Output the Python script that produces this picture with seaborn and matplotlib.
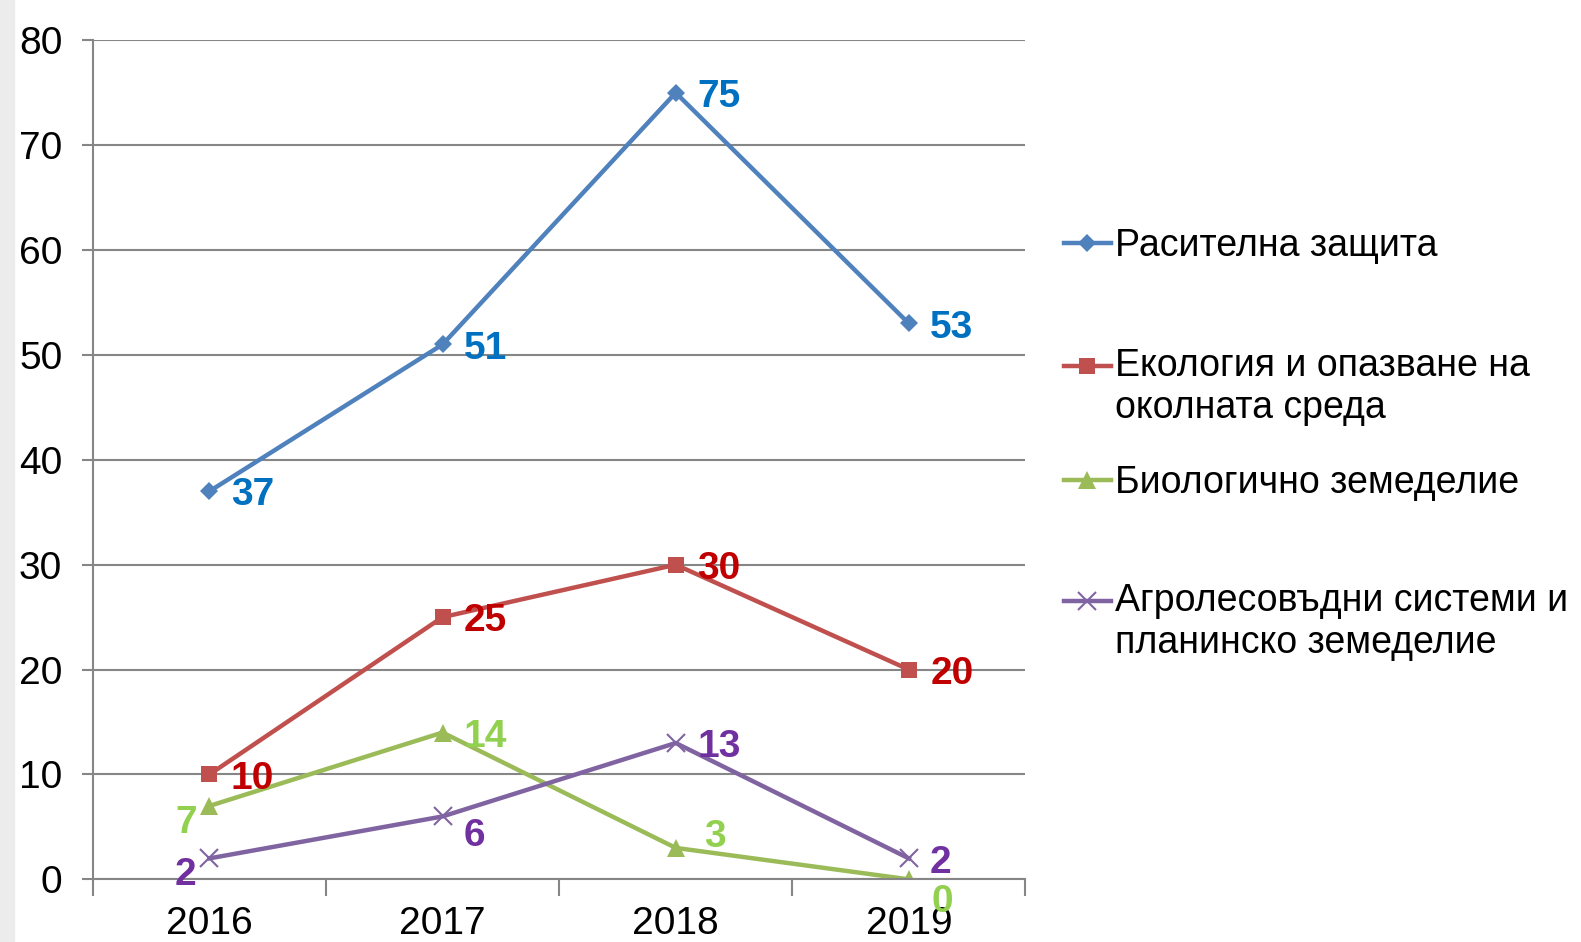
import pandas as pd
import matplotlib.pyplot as plt
import seaborn as sns
from matplotlib.patches import Rectangle
from matplotlib.ticker import FixedLocator
from matplotlib.legend_handler import HandlerLine2D

years = [2016, 2017, 2018, 2019]
series_names = ['Расителна защита',
                'Екология и опазване на\nоколната среда',
                'Биологично земеделие',
                'Агролесовъдни системи и\nпланинско земеделие']
plant_protection = [37, 51, 75, 53]
ecology = [10, 25, 30, 20]
bio_farming = [7, 14, 3, 0]
agroforestry = [2, 6, 13, 2]

line_colors = ['#4F81BD', '#C0504D', '#9BBB59', '#8064A2']
label_colors = ['#0070C0', '#C00000', '#92D050', '#7030A0']
markers = ['D', 's', '^', 'x']
marker_sizes = [9, 12, 13, 13]

# data label offsets (points), per series and year
offsets = [
    [(31, -3), (31, -3), (31, -3), (31, -3)],
    [(31, -3), (31, -3), (31, -3), (31, -3)],
    [(-17, -12), (31, -3), (28, 8), (24, -16)],
    [(-17, -12), (23, -14), (31, -3), (23, -3)],
]
# legend: top of first text line (px from top of figure)
legend_tops = [228, 348, 465, 583]


class TopHandler(HandlerLine2D):
    # keeps the handle on the first line of a two-line label
    def __init__(self, shift=0, **kw):
        super().__init__(**kw)
        self.shift = shift

    def create_artists(self, legend, orig_handle, xdescent, ydescent,
                       width, height, fontsize, trans):
        return super().create_artists(legend, orig_handle, xdescent,
                                      ydescent - 2 * self.shift, width,
                                      height, fontsize, trans)


values = [plant_protection, ecology, bio_farming, agroforestry]

plt.rcParams['font.family'] = ['Liberation Sans', 'DejaVu Sans']

fig = plt.figure(figsize=(15.81, 9.42), dpi=100)
fig.patches.append(Rectangle((0, 0), 14 / 1581, 1, transform=fig.transFigure,
                             color='#ececec', zorder=0))
ax = fig.add_axes([0.0587, 0.0665, 0.5899, 0.8907])

for name, vals, col, mk, ms in zip(series_names, values, line_colors,
                                   markers, marker_sizes):
    d = pd.DataFrame({'year': years, 'value': vals})
    sns.lineplot(data=d, x='year', y='value', color=col, marker=mk,
                 markersize=ms, markeredgewidth=(1.5 if mk == 'x' else 0),
                 markeredgecolor=col, linewidth=3.2, label=name, legend=False,
                 ax=ax)

for vals, col, offs in zip(values, label_colors, offsets):
    for yr, v, off in zip(years, vals, offs):
        ax.annotate(str(v), (yr, v), xytext=off, textcoords='offset points',
                    ha='center', va='center', color=col, fontsize=28,
                    fontweight='bold')

ax.set_xlim(2015.5, 2019.5)
ax.set_ylim(0, 80)
ax.set_yticks(range(0, 81, 10))
ax.set_xticks(years)
ax.xaxis.set_minor_locator(FixedLocator([2015.5, 2016.5, 2017.5, 2018.5, 2019.5]))
ax.tick_params(axis='x', which='major', length=0, labelsize=28, pad=19)
ax.tick_params(axis='x', which='minor', length=12, width=1.5, color='#868686',
               direction='out')
ax.tick_params(axis='y', length=8, width=1.5, color='#868686', labelsize=28,
               pad=14)
ax.set_xlabel('')
ax.set_ylabel('')
ax.grid(axis='y', color='#868686', linewidth=1.5)
ax.set_axisbelow(True)
for side in ['top', 'right']:
    ax.spines[side].set_visible(False)
for side in ['left', 'bottom']:
    ax.spines[side].set_color('#868686')
    ax.spines[side].set_linewidth(1.5)

for line, name, top in zip(ax.lines, series_names, legend_tops):
    shift = 15.5 if '\n' in name else 0
    fig.legend([line], [name], loc='upper left',
               bbox_to_anchor=(1064 / 1581, 1 - top / 942), frameon=False,
               fontsize=27, handlelength=1.25, handletextpad=0.12,
               borderaxespad=0, borderpad=0, markerscale=1.0,
               handler_map={line: TopHandler(shift=shift)})

fig.savefig('out.png', dpi=100)
